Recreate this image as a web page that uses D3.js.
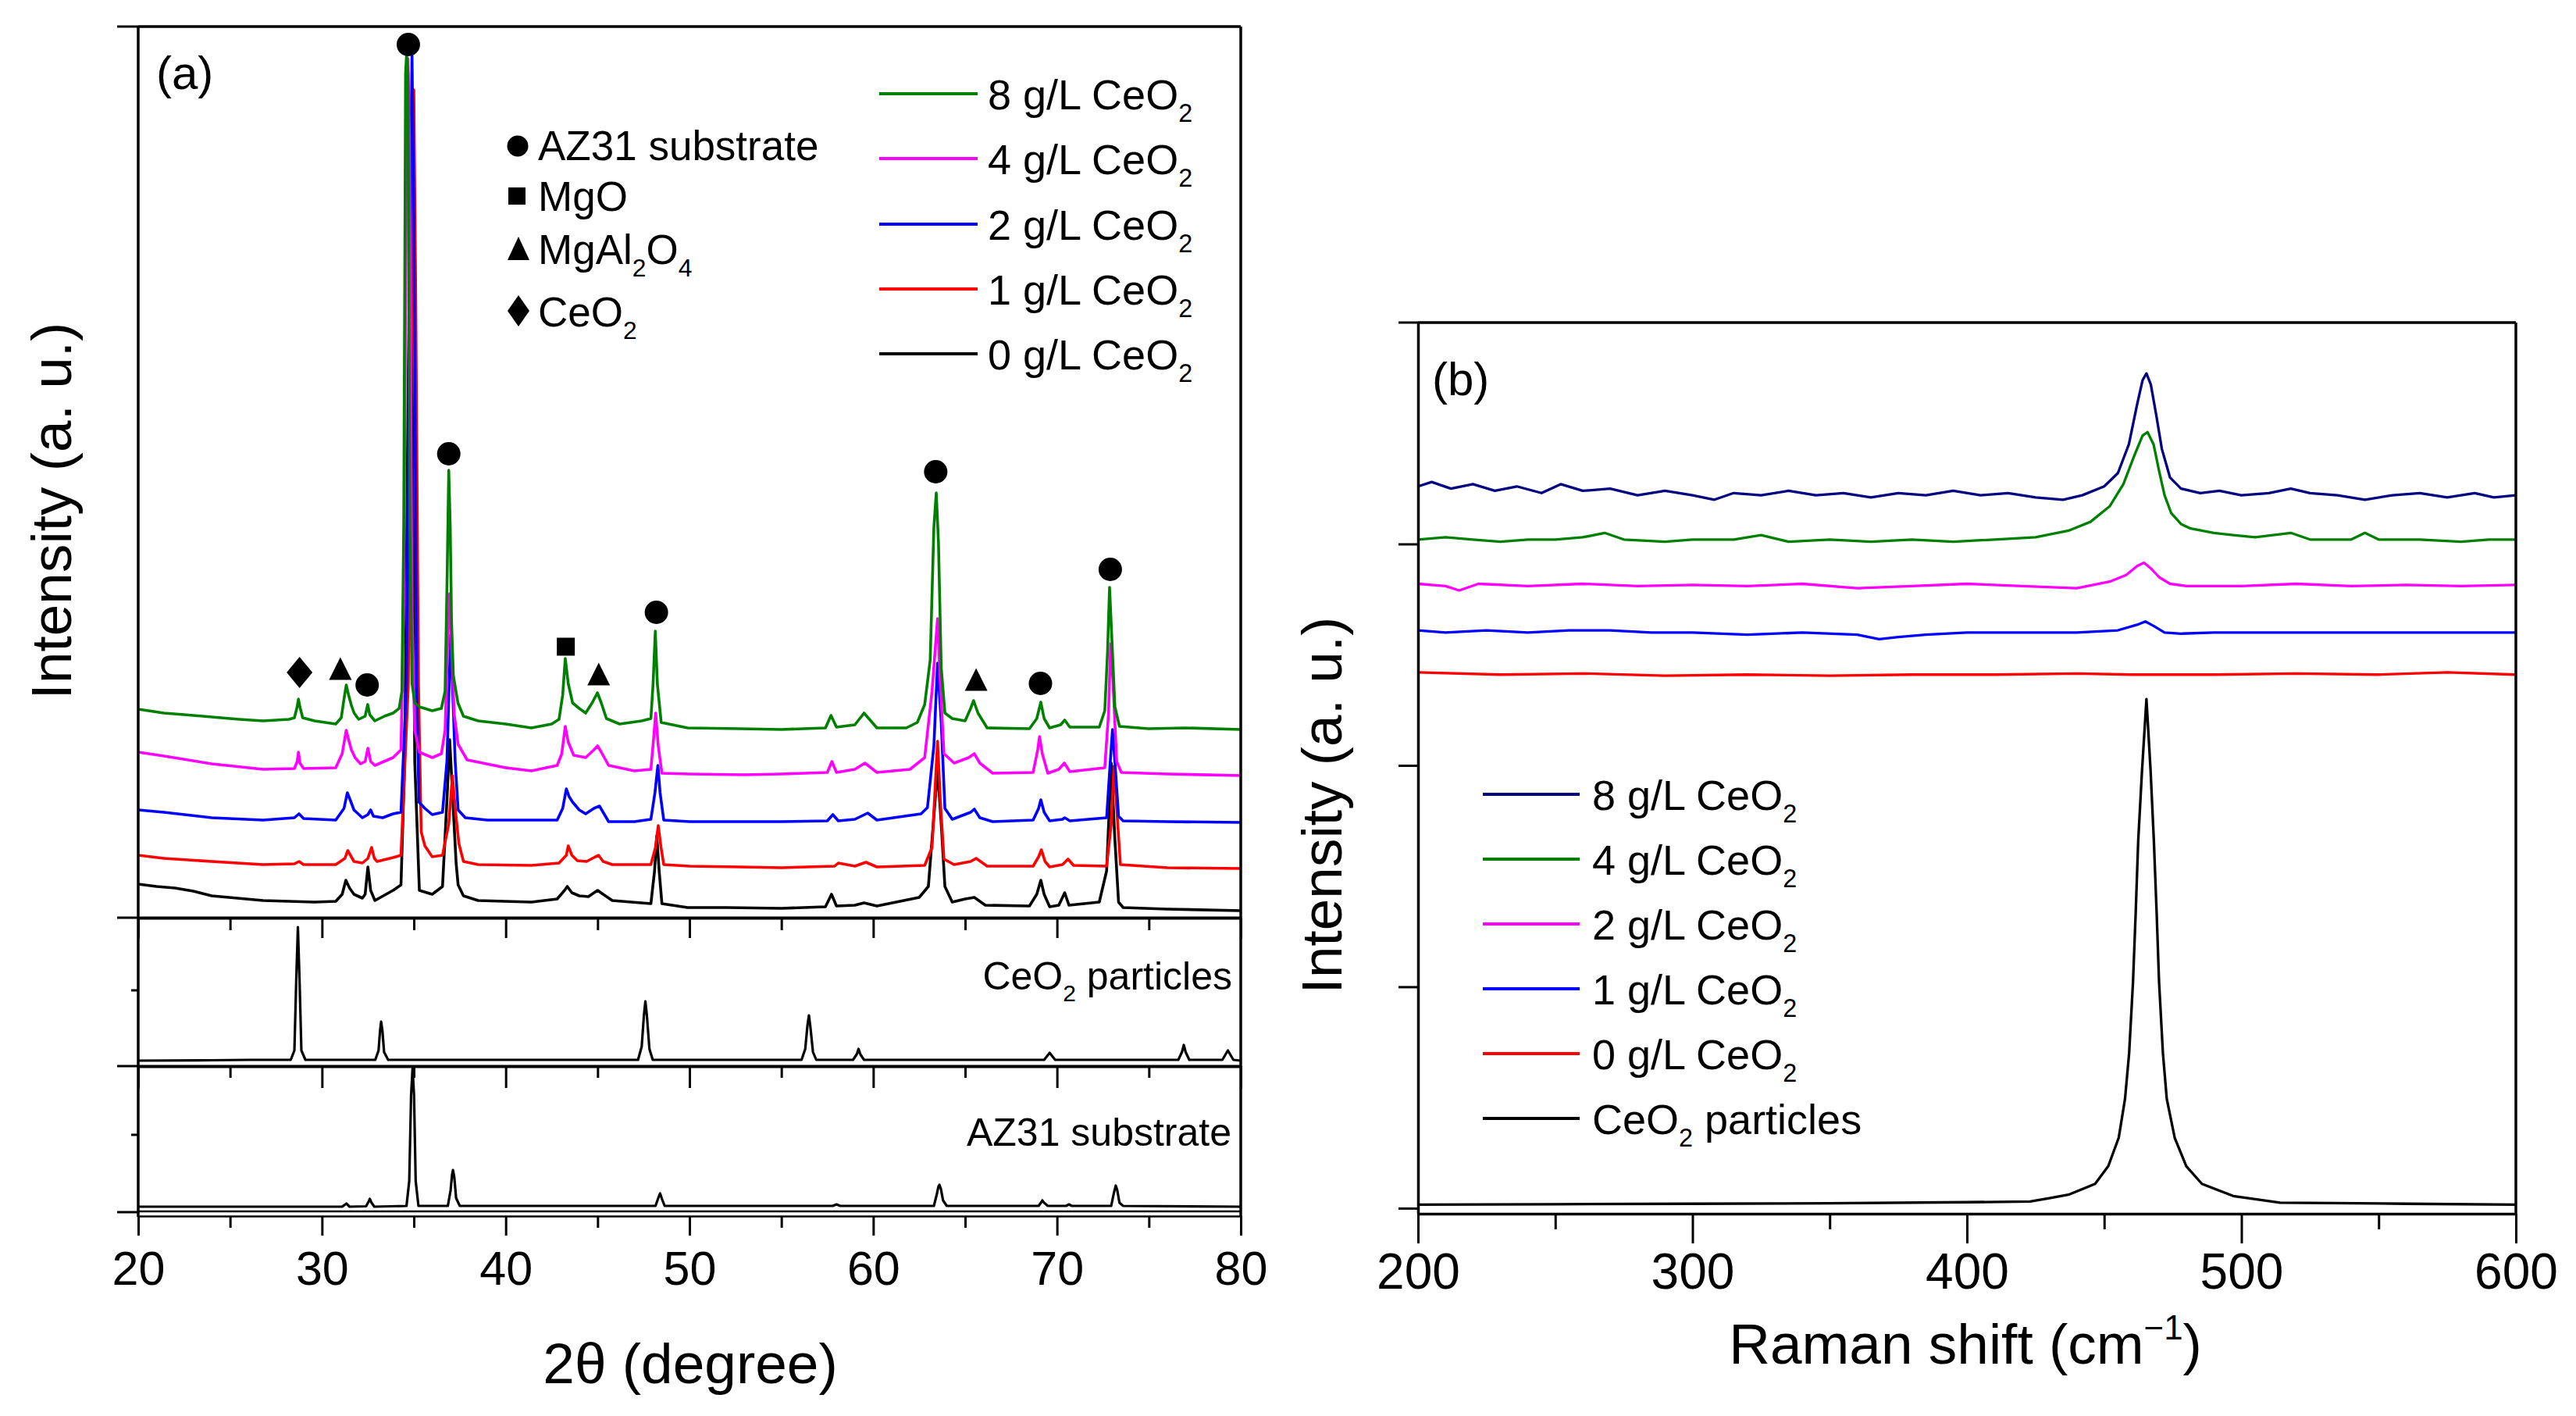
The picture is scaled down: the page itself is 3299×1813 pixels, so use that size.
<!DOCTYPE html>
<html><head><meta charset="utf-8">
<script src="https://cdnjs.cloudflare.com/ajax/libs/d3/7.8.5/d3.min.js"></script>
<style>
html,body{margin:0;padding:0;background:#fff;}
svg{display:block;font-family:"Liberation Sans",Arial,Helvetica,sans-serif;}
</style></head><body>
<svg id="chart" width="3299" height="1813"></svg>
<script>
// ---------------- DATA ----------------
// (a) XRD, 2theta (degree) vs intensity (a.u., stacked)
const xrd8 = [[20.0,267],[21.4,262],[22.5,260],[24.0,257],[25.5,254],[26.8,252],[28.2,254],[28.5,256],[28.65,270],[28.72,280],[28.8,270],[28.95,256],[29.6,252],[30.75,248],[31.05,256],[31.2,280],[31.32,298],[31.45,285],[31.6,272],[31.75,262],[32.0,254],[32.35,258],[32.49,273],[32.6,260],[32.88,252],[33.4,258],[33.87,262],[34.2,268],[34.35,290],[34.45,500],[34.55,1080],[34.6,1104],[34.68,1080],[34.78,500],[34.9,300],[35.05,275],[35.3,270],[36.0,265],[36.5,268],[36.7,290],[36.8,420],[36.9,573],[36.98,500],[37.05,380],[37.15,310],[37.4,275],[37.7,258],[38.5,252],[40.0,248],[41.4,243],[42.5,248],[42.9,254],[43.1,285],[43.24,332],[43.4,300],[43.64,275],[44.0,268],[44.35,262],[44.7,275],[44.99,288],[45.2,275],[45.48,255],[46.2,248],[47.4,252],[47.9,255],[48.02,300],[48.14,367],[48.25,300],[48.46,250],[49.9,243],[52.7,242],[55.0,241],[57.4,243],[57.7,259],[58.0,244],[59.0,247],[59.5,262],[60.2,243],[61.8,243],[62.4,250],[62.8,273],[63.1,330],[63.3,500],[63.43,544],[63.55,480],[63.7,320],[63.9,262],[64.3,255],[65.0,252],[65.3,268],[65.46,278],[65.7,262],[66.2,243],[68.5,242],[68.9,255],[69.12,276],[69.3,255],[69.6,243],[70.2,247],[70.42,253],[70.7,244],[72.3,244],[72.6,265],[72.75,340],[72.86,423],[72.98,360],[73.15,270],[73.4,245],[75.0,242],[77.0,243],[80.0,241]];
const xrd4 = [[20.0,212],[21.4,207],[24.0,197],[26.8,190],[28.5,191],[28.65,200],[28.72,212],[28.8,198],[29.0,191],[30.75,192],[31.1,210],[31.32,240],[31.45,228],[31.6,215],[31.8,205],[32.1,197],[32.35,200],[32.5,217],[32.65,200],[32.88,195],[33.87,205],[34.3,215],[34.45,400],[34.6,1000],[34.68,1100],[34.76,1000],[34.9,400],[35.05,240],[35.3,212],[36.0,205],[36.5,210],[36.7,240],[36.85,360],[36.95,415],[37.05,350],[37.2,260],[37.41,222],[37.9,202],[40.0,192],[41.4,188],[42.8,195],[43.05,210],[43.24,245],[43.4,225],[43.7,208],[44.35,205],[44.8,215],[45.0,220],[45.2,212],[45.6,195],[47.0,188],[47.9,190],[48.05,230],[48.16,262],[48.3,220],[48.5,185],[50.0,184],[53.0,183],[55.0,184],[57.5,186],[57.75,200],[58.0,186],[59.0,190],[59.55,198],[60.2,186],[62.0,190],[62.8,205],[63.2,290],[63.5,383],[63.65,300],[63.85,210],[64.4,198],[65.2,205],[65.5,210],[65.8,198],[66.5,185],[68.7,186],[68.95,215],[69.05,232],[69.2,210],[69.5,185],[70.1,190],[70.4,198],[70.7,187],[72.6,192],[72.8,260],[72.92,351],[73.05,300],[73.25,200],[73.5,186],[76.0,184],[80.0,182]];
const xrd2 = [[20.0,138],[21.4,135],[24.0,128],[26.8,125],[28.5,128],[28.75,133],[29.0,127],[30.75,125],[31.2,140],[31.38,160],[31.55,150],[31.74,138],[32.2,128],[32.5,132],[32.65,138],[32.8,130],[33.3,128],[33.87,133],[34.3,135],[34.6,300],[34.8,900],[34.9,1104],[35.0,900],[35.15,300],[35.28,148],[35.6,140],[36.0,132],[36.56,135],[36.8,200],[37.0,362],[37.1,300],[37.25,200],[37.41,138],[37.8,128],[39.0,125],[42.8,125],[43.1,140],[43.3,165],[43.45,155],[43.64,148],[44.0,138],[44.35,133],[44.8,140],[45.1,143],[45.3,135],[45.6,123],[47.0,123],[47.9,126],[48.12,160],[48.28,195],[48.4,160],[48.6,125],[50.0,123],[55.0,123],[57.5,124],[57.8,132],[58.1,124],[59.0,126],[59.7,134],[60.2,125],[62.6,133],[62.95,141],[63.3,220],[63.5,326],[63.7,250],[63.9,140],[64.3,126],[65.3,135],[65.5,139],[65.8,128],[66.5,123],[68.7,125],[69.0,140],[69.12,151],[69.3,135],[69.6,124],[70.3,126],[70.42,128],[70.7,124],[72.7,128],[72.9,200],[73.02,241],[73.15,200],[73.35,130],[73.6,124],[76.0,123],[80.0,122]];
const xrd1 = [[20.0,80],[21.4,76],[24.0,72],[26.8,68],[28.5,69],[28.75,72],[29.0,68],[30.75,68],[31.25,76],[31.4,86],[31.55,80],[31.74,72],[32.2,70],[32.5,76],[32.7,90],[32.85,76],[33.0,72],[33.87,77],[34.3,80],[34.7,300],[34.9,800],[35.0,1060],[35.1,800],[35.25,300],[35.4,110],[35.6,92],[36.0,78],[36.56,80],[36.9,120],[37.1,182],[37.25,140],[37.45,95],[37.7,72],[38.5,68],[41.4,67],[42.9,70],[43.3,80],[43.4,92],[43.6,80],[43.9,73],[44.4,72],[45.05,80],[45.3,72],[45.8,68],[47.9,68],[48.15,90],[48.3,118],[48.45,90],[48.6,68],[50.0,66],[52.7,65],[55.0,64],[57.9,66],[58.1,70],[59.0,66],[59.6,71],[60.2,65],[62.8,67],[63.2,90],[63.5,226],[63.65,150],[63.85,75],[64.4,68],[65.3,72],[65.6,76],[66.2,66],[68.7,66],[69.0,78],[69.15,87],[69.35,72],[69.6,65],[70.3,68],[70.6,75],[70.9,67],[72.7,66],[72.95,120],[73.1,194],[73.25,140],[73.45,68],[76.0,64],[80.0,63]];
const xrd0 = [[20.0,43],[21.0,40],[22.0,38],[23.0,34],[24.0,28],[26.8,22],[29.6,20],[30.75,21],[31.1,30],[31.3,48],[31.5,38],[31.74,30],[32.2,25],[32.35,30],[32.5,65],[32.65,35],[32.88,22],[33.87,35],[34.3,42],[34.5,200],[34.7,700],[34.8,900],[34.9,700],[35.05,200],[35.3,35],[36.0,30],[36.56,40],[36.8,150],[36.95,228],[37.1,160],[37.3,70],[37.41,42],[37.7,28],[38.5,22],[41.4,20],[42.8,24],[43.2,35],[43.35,40],[43.6,32],[44.0,28],[44.5,27],[45.0,35],[45.3,30],[45.8,22],[47.9,18],[48.1,60],[48.22,105],[48.35,60],[48.5,18],[49.9,13],[52.0,13],[55.0,12],[57.4,14],[57.73,30],[58.0,15],[59.0,16],[59.5,19],[60.2,15],[62.5,26],[63.0,40],[63.3,130],[63.5,190],[63.7,120],[63.9,40],[64.3,20],[65.0,24],[65.5,26],[66.1,16],[68.5,15],[68.9,30],[69.12,48],[69.3,30],[69.6,14],[70.1,16],[70.42,32],[70.65,16],[72.3,20],[72.7,60],[72.95,198],[73.15,100],[73.35,20],[73.6,13],[76.0,11],[80.0,9]];
const xrdCeO2 = [[20,7],[24,7.5],[26,8],[28.3,8],[28.5,20],[28.6,110],[28.69,178],[28.78,110],[28.88,20],[29.1,8],[32.9,8],[33.08,20],[33.16,45],[33.22,57],[33.29,45],[33.38,18],[33.6,8],[47.2,8],[47.4,25],[47.52,65],[47.6,83],[47.68,65],[47.82,22],[48.0,8],[56.1,8],[56.3,22],[56.42,52],[56.5,65],[56.58,50],[56.72,18],[56.9,8],[58.9,8],[59.1,15],[59.2,22],[59.3,15],[59.5,8],[69.3,8],[69.5,14],[69.6,17],[69.7,14],[69.9,8],[76.6,8],[76.8,18],[76.9,27],[77.0,18],[77.2,8],[79.0,8],[79.2,16],[79.3,20],[79.4,16],[79.6,8],[80,7]];
const xrdAZ31 = [[20,7],[25,7],[31.1,7],[31.33,11],[31.5,7],[32.4,7.5],[32.55,14],[32.6,17],[32.7,12],[32.85,7],[34.6,8],[34.75,40],[34.85,150],[34.93,184],[35.01,150],[35.1,40],[35.25,8],[36.85,8],[37.0,28],[37.08,48],[37.13,54],[37.2,45],[37.3,18],[37.5,8],[48.15,8],[48.3,18],[48.4,24],[48.5,17],[48.65,8],[57.8,8],[58.0,10],[58.2,8],[63.3,8],[63.45,22],[63.55,33],[63.6,35],[63.68,30],[63.8,15],[64.0,8],[69.0,8],[69.15,13],[69.2,15],[69.3,12],[69.5,8],[70.5,8],[70.65,10],[70.8,8],[72.95,8],[73.1,25],[73.2,34],[73.28,28],[73.4,12],[73.6,8],[80,7]];
// phase markers [2theta, height]
const markAZ31 = [[32.46,298],[34.7,1118],[36.9,594],[48.2,391],[63.4,571],[69.1,300],[72.9,446]];
const markMgO = [[43.27,347]];
const markMgAl2O4 = [[31.0,319],[45.06,312],[65.6,305]];
const markCeO2 = [[28.78,314]];
const xrdTicks = [20,30,40,50,60,70,80];
const xrdMinor = [25,35,45,55,65,75];
const xrdLegendLabels = ['8 g/L CeO','4 g/L CeO','2 g/L CeO','1 g/L CeO','0 g/L CeO'];
const xrdColors = ['#008000','#ff00ff','#0000ff','#ff0000','#000000'];

// (b) Raman, shift (cm-1) vs intensity (a.u., stacked)
const raman8 = [[200,3.26],[205,3.28],[212,3.25],[220,3.27],[228,3.24],[236,3.26],[245,3.23],[252,3.27],[260,3.24],[270,3.25],[280,3.22],[290,3.24],[300,3.22],[308,3.20],[315,3.23],[325,3.22],[335,3.24],[345,3.22],[355,3.23],[365,3.21],[375,3.23],[385,3.22],[395,3.24],[405,3.22],[415,3.23],[425,3.21],[435,3.20],[442,3.22],[450,3.26],[455,3.32],[459,3.45],[462,3.63],[464,3.74],[465.4,3.77],[467,3.72],[469,3.58],[471,3.43],[474,3.30],[478,3.25],[485,3.23],[492,3.24],[500,3.22],[510,3.23],[518,3.25],[525,3.23],[535,3.22],[545,3.20],[555,3.22],[565,3.23],[575,3.21],[585,3.23],[592,3.21],[600,3.22]];
const raman4 = [[200,3.02],[210,3.03],[220,3.02],[230,3.01],[240,3.02],[250,3.02],[260,3.03],[268,3.05],[275,3.02],[290,3.01],[300,3.02],[315,3.02],[325,3.04],[335,3.01],[350,3.02],[365,3.01],[380,3.02],[395,3.01],[410,3.02],[425,3.03],[437,3.06],[445,3.10],[452,3.17],[457,3.27],[461,3.40],[464,3.49],[465.8,3.505],[468,3.45],[470,3.33],[472,3.22],[474.4,3.14],[478,3.09],[481.5,3.07],[490,3.05],[497,3.04],[505,3.03],[518,3.05],[525,3.02],[540,3.02],[545,3.05],[550,3.02],[565,3.02],[580,3.01],[590,3.02],[600,3.02]];
const raman2 = [[200,2.82],[210,2.81],[215,2.79],[222,2.82],[240,2.81],[260,2.82],[280,2.81],[300,2.815],[320,2.81],[340,2.82],[360,2.80],[380,2.81],[400,2.82],[420,2.81],[440,2.80],[452,2.83],[458,2.86],[462,2.90],[464.5,2.915],[467,2.89],[470,2.85],[474,2.82],[480,2.81],[500,2.81],[520,2.82],[540,2.81],[560,2.815],[580,2.81],[600,2.815]];
const raman1 = [[200,2.61],[210,2.60],[225,2.61],[240,2.60],[255,2.61],[270,2.61],[285,2.60],[300,2.60],[320,2.59],[340,2.60],[360,2.59],[368,2.57],[375,2.58],[385,2.59],[400,2.60],[420,2.60],[440,2.60],[455,2.61],[462,2.635],[465,2.65],[468,2.63],[472,2.60],[478,2.595],[490,2.60],[510,2.60],[530,2.60],[560,2.60],[600,2.60]];
const raman0 = [[200,2.42],[230,2.41],[260,2.415],[290,2.405],[320,2.41],[350,2.405],[380,2.41],[410,2.41],[440,2.415],[460,2.41],[490,2.41],[520,2.415],[550,2.41],[575,2.42],[600,2.41]];
const ramanCeO2 = [[200,0.016],[250,0.018],[300,0.02],[350,0.022],[400,0.027],[423,0.030],[430,0.045],[437.3,0.062],[446.7,0.110],[451.5,0.190],[455.3,0.318],[457.6,0.494],[459.1,0.701],[460.5,1.021],[461.5,1.340],[462.4,1.660],[463.8,1.979],[465.4,2.299],[466.9,1.979],[468.1,1.660],[469.1,1.340],[470.0,1.021],[471.4,0.701],[472.8,0.494],[475.7,0.318],[479.9,0.190],[485.6,0.110],[497.0,0.055],[514.1,0.025],[560,0.02],[600,0.016]];
const ramanTicks = [200,300,400,500,600];
const ramanMinor = [250,350,450,550];
const ramanYTicks = [0,1,2,3];
const ramanLegendLabels = ['8 g/L CeO','4 g/L CeO','2 g/L CeO','1 g/L CeO','0 g/L CeO'];
const ramanColors = ['#000080','#008000','#ff00ff','#0000ff','#ff0000','#000000'];

// ---------------- DRAW ----------------
const svg = d3.select('#chart');
svg.append('rect').attr('width',3299).attr('height',1813).attr('fill','#fff');

function rich(sel, parts, fs){
  let shift = 0;
  parts.forEach(p=>{
    const want = p.sub ? 0.3*fs : (p.sup ? -0.42*fs : 0);
    sel.append('tspan').attr('dy', want-shift).attr('font-size', (p.sub||p.sup)?0.6*fs:fs).text(p.t);
    shift = want;
  });
}
const lineGen = (x,y)=>d3.line().x(d=>x(d[0])).y(d=>y(d[1]));
function drawLine(g,data,x,y,color,w){
  g.append('path').datum(data).attr('d',lineGen(x,y)).attr('fill','none')
   .attr('stroke',color).attr('stroke-width',w).attr('stroke-linejoin','round');
}
function styleAxis(g,w){
  g.selectAll('path.domain').attr('stroke','#000').attr('stroke-width',w);
  g.selectAll('.tick line').attr('stroke','#000').attr('stroke-width',3);
}

// ===== Panel (a) =====
const L=177, R=1589, T=34;
const xA = d3.scaleLinear().domain([20,80]).range([L,R]);
const yMain = d3.scaleLinear().domain([0,1141]).range([1175,T]);
const yCe = d3.scaleLinear().domain([0,188]).range([1365,1177]);
const yAz = d3.scaleLinear().domain([0,187]).range([1552,1365]);
const gA = svg.append('g');

// spectra
const series = [xrd0, xrd1, xrd2, xrd4, xrd8];
const sColors = ['#000000','#ff0000','#0000ff','#ff00ff','#008000'];
series.forEach((s,i)=>drawLine(gA,s,xA,yMain,sColors[i],3.6));
drawLine(gA,xrdCeO2,xA,yCe,'#000',3.2);
drawLine(gA,xrdAZ31,xA,yAz,'#000',3.2);

// markers
function circ(g,cx,cy,r){ g.append('circle').attr('cx',cx).attr('cy',cy).attr('r',r).attr('fill','#000'); }
function sq(g,cx,cy,s){ g.append('rect').attr('x',cx-s/2).attr('y',cy-s/2).attr('width',s).attr('height',s).attr('fill','#000'); }
function tri(g,cx,cy,w,h){ g.append('path').attr('d',`M${cx},${cy-h/2}L${cx+w/2},${cy+h/2}L${cx-w/2},${cy+h/2}Z`).attr('fill','#000'); }
function dia(g,cx,cy,w,h){ g.append('path').attr('d',`M${cx},${cy-h/2}L${cx+w/2},${cy}L${cx},${cy+h/2}L${cx-w/2},${cy}Z`).attr('fill','#000'); }
markAZ31.forEach(d=>circ(gA,xA(d[0]),yMain(d[1]),15));
markMgO.forEach(d=>sq(gA,xA(d[0]),yMain(d[1]),23));
markMgAl2O4.forEach(d=>tri(gA,xA(d[0]),yMain(d[1]),29,29));
markCeO2.forEach(d=>dia(gA,xA(d[0]),yMain(d[1]),33,40));

// frame
gA.append('line').attr('x1',L).attr('x2',R).attr('y1',T).attr('y2',T).attr('stroke','#000').attr('stroke-width',3.5);
gA.append('line').attr('x1',L).attr('x2',L).attr('y1',T).attr('y2',1558).attr('stroke','#000').attr('stroke-width',3.5);
gA.append('line').attr('x1',R).attr('x2',R).attr('y1',T).attr('y2',1558).attr('stroke','#000').attr('stroke-width',3.5);
// left y ticks
[[T,27],[1175,27],[1365,27],[1552,27],[1268,9],[1453,9]].forEach(t=>{
  gA.append('line').attr('x1',L-t[1]).attr('x2',L).attr('y1',t[0]).attr('y2',t[0]).attr('stroke','#000').attr('stroke-width',3);
});
// bottom axes
function xAxisAt(yPos, major, minor, labels, w){
  const g = gA.append('g').attr('transform',`translate(0,${yPos})`);
  const ax = d3.axisBottom(xA).tickValues(xrdTicks).tickSize(major).tickSizeOuter(0).tickPadding(20)
    .tickFormat(labels? d3.format('d') : ()=> '');
  g.call(ax);
  styleAxis(g,w);
  g.selectAll('text').attr('font-size',61).attr('fill','#000').attr('font-family','"Liberation Sans",Arial,sans-serif');
  const gm = gA.append('g').attr('transform',`translate(0,${yPos})`);
  gm.call(d3.axisBottom(xA).tickValues(xrdMinor).tickSize(minor).tickSizeOuter(0).tickFormat(()=>''));
  gm.select('path.domain').remove();
  styleAxis(gm,w);
}
xAxisAt(1175,26,16,false,4);
xAxisAt(1365,28,15,false,4);
gA.append('line').attr('x1',L).attr('x2',R).attr('y1',1551).attr('y2',1551).attr('stroke','#000').attr('stroke-width',2.5);
xAxisAt(1557,25,15,true,2.5);

// axis titles
gA.append('text').attr('x',884).attr('y',1771).attr('text-anchor','middle').attr('font-size',73).text('2θ (degree)');
gA.append('text').attr('transform','translate(65,654) rotate(-90)').attr('text-anchor','middle')
  .attr('dominant-baseline','central').attr('font-size',73).text('Intensity (a. u.)');
gA.append('text').attr('x',200).attr('y',114).attr('font-size',60).text('(a)');

// subpanel labels
rich(gA.append('text').attr('x',1578).attr('y',1267).attr('text-anchor','end'),[{t:'CeO'},{t:'2',sub:true},{t:' particles'}],50);
gA.append('text').attr('x',1577).attr('y',1467).attr('text-anchor','end').attr('font-size',50).text('AZ31 substrate');

// phase legend
const phaseY = [187,251,318,398];
circ(gA,663,phaseY[0],13.5);
sq(gA,662,phaseY[1],22);
tri(gA,664,phaseY[2],28,30);
dia(gA,664,phaseY[3],28,40);
const phaseLabels = [[{t:'AZ31 substrate'}],[{t:'MgO'}],[{t:'MgAl'},{t:'2',sub:true},{t:'O'},{t:'4',sub:true}],[{t:'CeO'},{t:'2',sub:true}]];
const phaseBase = [205,270,338,418];
phaseLabels.forEach((p,i)=>rich(gA.append('text').attr('x',689).attr('y',phaseBase[i]),p,53));

// line legend
const legY = [120,203,287,370,453];
xrdLegendLabels.forEach((lab,i)=>{
  gA.append('line').attr('x1',1126).attr('x2',1252).attr('y1',legY[i]).attr('y2',legY[i]).attr('stroke',xrdColors[i]).attr('stroke-width',4);
  rich(gA.append('text').attr('x',1265).attr('y',legY[i]+20),[{t:lab},{t:'2',sub:true}],54);
});

// ===== Panel (b) =====
const L2=1816, R2=3222, T2=413, B2=1554;
const xB = d3.scaleLinear().domain([200,600]).range([L2,R2]);
const yB = d3.scaleLinear().domain([-0.025,4]).range([B2,T2]);
const gB = svg.append('g');
[raman0, raman1, raman2, raman4, raman8].forEach((s,i)=>{
  const col = [ramanColors[4],ramanColors[3],ramanColors[2],ramanColors[1],ramanColors[0]][i];
  drawLine(gB,s,xB,yB,col,3.3);
});
drawLine(gB,ramanCeO2,xB,yB,'#000',3.3);

gB.append('line').attr('x1',L2).attr('x2',R2).attr('y1',T2).attr('y2',T2).attr('stroke','#000').attr('stroke-width',3.5);
gB.append('line').attr('x1',R2).attr('x2',R2).attr('y1',T2).attr('y2',B2).attr('stroke','#000').attr('stroke-width',3.5);
gB.append('line').attr('x1',L2-25).attr('x2',L2).attr('y1',T2).attr('y2',T2).attr('stroke','#000').attr('stroke-width',3);
const gy = gB.append('g').attr('transform',`translate(${L2},0)`);
gy.call(d3.axisLeft(yB).tickValues(ramanYTicks).tickSize(25).tickSizeOuter(0).tickFormat(()=>''));
styleAxis(gy,3.5);
const gx = gB.append('g').attr('transform',`translate(0,${B2})`);
gx.call(d3.axisBottom(xB).tickValues(ramanTicks).tickSize(38).tickSizeOuter(0).tickPadding(13).tickFormat(d3.format('d')));
styleAxis(gx,3.5);
gx.selectAll('text').attr('font-size',64).attr('fill','#000').attr('font-family','"Liberation Sans",Arial,sans-serif');
const gxm = gB.append('g').attr('transform',`translate(0,${B2})`);
gxm.call(d3.axisBottom(xB).tickValues(ramanMinor).tickSize(20).tickSizeOuter(0).tickFormat(()=>''));
gxm.select('path.domain').remove();
styleAxis(gxm,3.5);

rich(gB.append('text').attr('x',2517).attr('y',1746).attr('text-anchor','middle'),
  [{t:'Raman shift (cm'},{t:'−1',sup:true},{t:')'}],73);
gB.append('text').attr('transform','translate(1692,1031) rotate(-90)').attr('text-anchor','middle')
  .attr('dominant-baseline','central').attr('font-size',73).text('Intensity (a. u.)');
gB.append('text').attr('x',1834).attr('y',506).attr('font-size',60).text('(b)');

const legY2 = [1017,1100,1183,1266,1349,1432];
ramanLegendLabels.concat(['CeO']).forEach((lab,i)=>{
  gB.append('line').attr('x1',1899).attr('x2',2023).attr('y1',legY2[i]).attr('y2',legY2[i]).attr('stroke',ramanColors[i]).attr('stroke-width',4);
  const parts = i<5 ? [{t:lab},{t:'2',sub:true}] : [{t:'CeO'},{t:'2',sub:true},{t:' particles'}];
  rich(gB.append('text').attr('x',2039).attr('y',legY2[i]+20),parts,54);
});
</script>
</body></html>
